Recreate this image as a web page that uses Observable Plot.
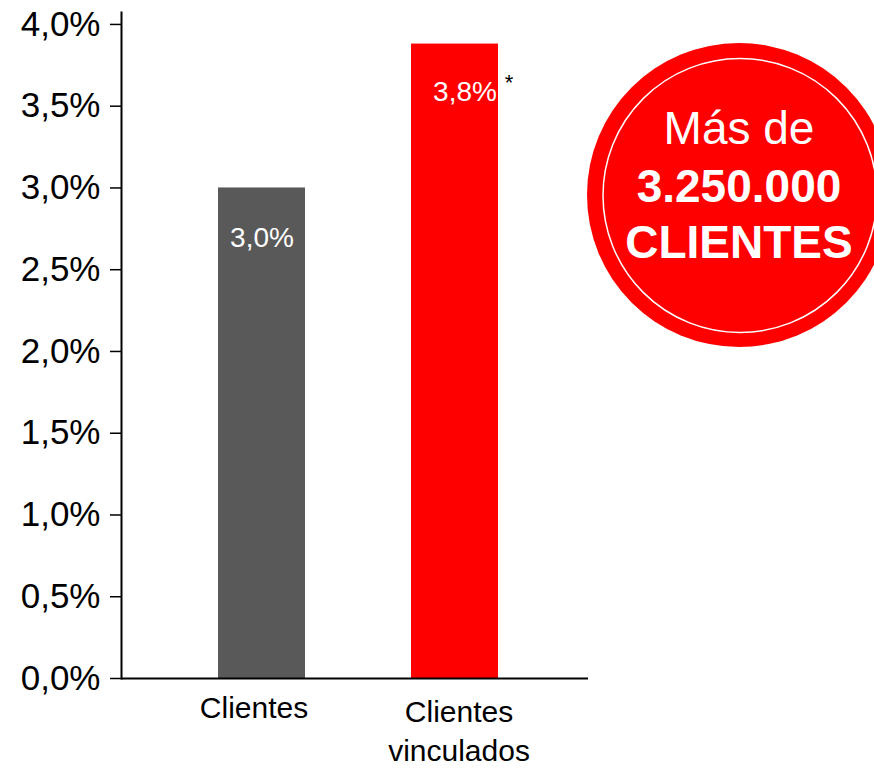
<!DOCTYPE html>
<html>
<head>
<meta charset="utf-8">
<script src="https://cdn.jsdelivr.net/npm/d3@7"></script>
<script src="https://cdn.jsdelivr.net/npm/@observablehq/plot@0.6"></script>
<style>
  html, body { margin: 0; padding: 0; background: #fff; overflow: hidden; }
  #wrap { position: relative; width: 874px; height: 768px; overflow: hidden;
          font-family: "Liberation Sans", Arial, Helvetica, sans-serif; }
  #wrap > svg { position: absolute; left: 0; top: 0; display: block; }
</style>
</head>
<body>
<div id="wrap"></div>
<script>
// ---- data ----
const categories = ["Clientes", "Clientes vinculados"];
const axisLabels = ["Clientes", "Clientes\nvinculados"];
const values = [3.0, 3.88];
const valueLabels = ["3,0%", "3,8%"];
const notes = ["", "*"];
const barColors = ["#595959", "#ff0000"];
const yTicks = [0, 0.5, 1, 1.5, 2, 2.5, 3, 3.5, 4];
const badgeLines = ["Más de", "3.250.000", "CLIENTES"];

const data = categories.map((c, i) => ({
  category: c, value: values[i], label: valueLabels[i],
  note: notes[i], axis: axisLabels[i], color: barColors[i]
}));

const FONT = '"Liberation Sans", Arial, Helvetica, sans-serif';

const chart = Plot.plot({
  width: 874,
  height: 768,
  marginLeft: 121,
  marginRight: 286,
  marginTop: 12,
  marginBottom: 90,
  style: { fontFamily: FONT, background: "transparent", color: "#000", overflow: "visible" },
  x: { domain: categories, range: [121.5, 594.5], paddingInner: 0.55, paddingOuter: 0.5, axis: null },
  y: { domain: [0, 4.073], axis: null },
  marks: [
    Plot.barY(data, { x: "category", y: "value", fill: "color" }),
    Plot.frame({ anchor: "left", stroke: "#000", strokeWidth: 2 }),
    Plot.axisY({
      ticks: yTicks,
      label: null,
      tickFormat: d => d.toFixed(1).replace(".", ",") + "%",
      tickSize: 11, tickPadding: 10, fontSize: 35, strokeWidth: 1.5
    }),
    Plot.ruleY([0], { stroke: "#000", strokeWidth: 2 }),
    Plot.text(data.filter((d, i) => i === 0), {
      x: "category", y: "value", text: "label", fill: "#fff", fontSize: 28, dy: 50
    }),
    Plot.text(data.filter((d, i) => i === 1), {
      x: "category", y: "value", text: "label", fill: "#fff", fontSize: 28, dy: 48, dx: 10
    }),
    Plot.text(data, {
      x: "category", y: "value", text: "note", fill: "#000", fontSize: 22, dy: 39, dx: 54
    }),
    Plot.text(data.filter((d, i) => i === 0), {
      x: "category", y: 0, text: "axis", fill: "#000", fontSize: 30,
      lineAnchor: "top", lineHeight: 1.3, dy: 12, dx: -8
    }),
    Plot.text(data.filter((d, i) => i === 1), {
      x: "category", y: 0, text: "axis", fill: "#000", fontSize: 30,
      lineAnchor: "top", lineHeight: 1.3, dy: 16, dx: 4
    })
  ]
});

const wrap = document.getElementById("wrap");
wrap.appendChild(chart);

// ---- badge annotation ----
const ns = "http://www.w3.org/2000/svg";
const badge = document.createElementNS(ns, "svg");
badge.setAttribute("width", 874);
badge.setAttribute("height", 768);
function el(tag, attrs, text) {
  const e = document.createElementNS(ns, tag);
  for (const k in attrs) e.setAttribute(k, attrs[k]);
  if (text != null) e.textContent = text;
  badge.appendChild(e);
  return e;
}
el("circle", { cx: 739, cy: 195, r: 152, fill: "#ff0000" });
el("circle", { cx: 740, cy: 195.5, r: 137, fill: "none", stroke: "#fff", "stroke-width": 1.5 });
const badgeStyle = [
  { y: 144, size: 46, weight: "normal" },
  { y: 202, size: 46, weight: "bold" },
  { y: 258, size: 46, weight: "bold" }
];
badgeLines.forEach((t, i) => {
  el("text", {
    x: 739, y: badgeStyle[i].y, "text-anchor": "middle", fill: "#fff",
    "font-family": FONT, "font-size": badgeStyle[i].size, "font-weight": badgeStyle[i].weight
  }, t);
});
wrap.appendChild(badge);
</script>
</body>
</html>
